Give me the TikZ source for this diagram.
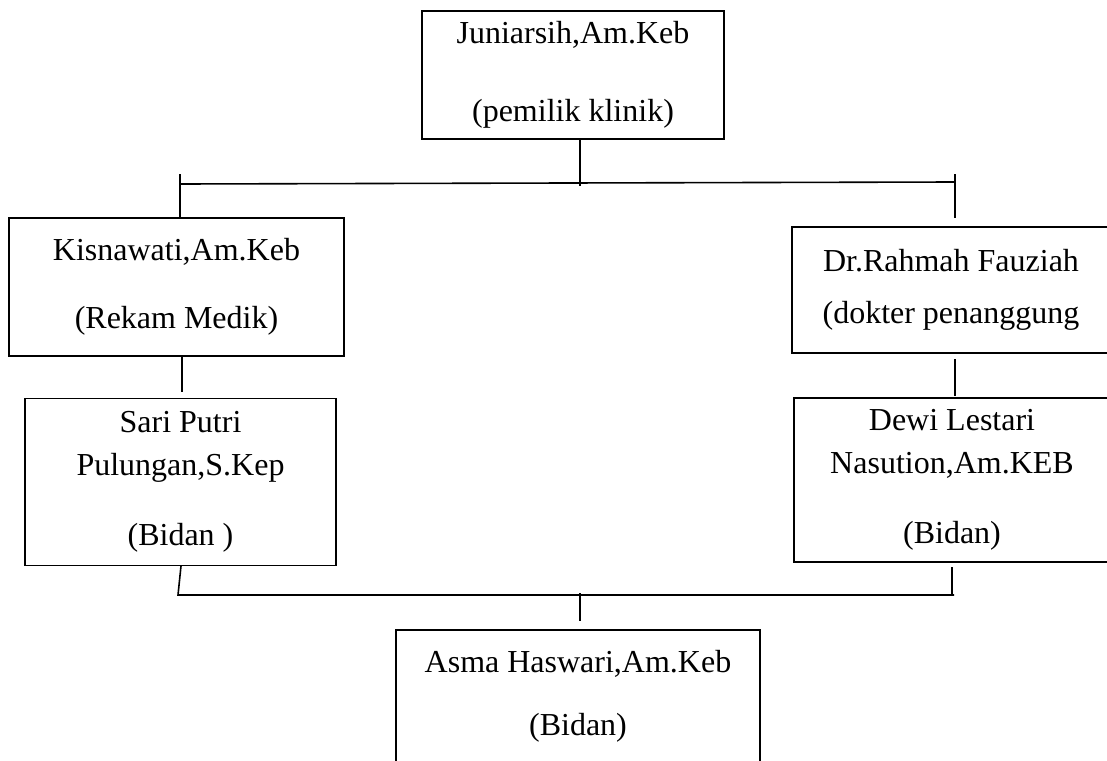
\documentclass[tikz,border=0pt]{standalone}
\usepackage{fontspec}
\setmainfont{Liberation Serif}

\begin{document}
\begin{tikzpicture}[x=0.5pt, y=-0.5pt,
  box/.style={draw, rectangle, line width=0.9pt, inner sep=0pt, align=center, font=\fontsize{16}{21.5}\selectfont},
  con/.style={line width=0.8pt}]
\useasboundingbox (0,0) rectangle (1107,760);
\clip (0,0) rectangle (1107,760);
\node[box, minimum width=151pt, minimum height=64pt](jun) at (573,75){Juniarsih,Am.Keb\\[17.5pt](pemilik klinik)};
\node[box, minimum width=167.5pt, minimum height=69pt](kis) at (176.5,287){Kisnawati,Am.Keb\\[12.5pt](Rekam Medik)};
\node[box, minimum width=159pt, minimum height=63pt](rah) at (951,290){Dr.Rahmah Fauziah\\[4.5pt](dokter penanggung};
\node[box, minimum width=155.5pt, minimum height=83.5pt](sar) at (180.5,482){Sari Putri\\Pulungan,S.Kep\\[13.5pt](Bidan )};
\node[box, minimum width=158pt, minimum height=82pt](dew) at (952,480){Dewi Lestari\\Nasution,Am.KEB\\[13.5pt](Bidan)};
\node[box, minimum width=182pt, minimum height=66pt](asm) at (578,696){Asma Haswari,Am.Keb\\[10pt](Bidan)};
\coordinate (jb) at (580,186);
\coordinate (bl) at (180,184);
\coordinate (br) at (954,182);
\coordinate (blt) at (180,174);
\coordinate (brt) at (955,174);
\coordinate (brb) at (955,218);
\coordinate (kl) at (182,392);
\coordinate (rt) at (955,359);
\coordinate (rb) at (955,396);
\coordinate (sa) at (181,566);
\coordinate (sl) at (178,595);
\coordinate (sr) at (954,595);
\coordinate (dt) at (952,567);
\coordinate (db) at (952,594);
\coordinate (bm) at (580,593);
\coordinate (am) at (580,621);
\draw[con] (jun.south -| jb) -- (jb);
\draw[con] (bl) -- (br);
\draw[con] (blt) -- (kis.north -| blt);
\draw[con] (brt) -- (brb);
\draw[con] (kis.south -| kl) -- (kl);
\draw[con] (rt) -- (rb);
\draw[con] (sa) -- (sl) -- (sr);
\draw[con] (dt) -- (db);
\draw[con] (bm) -- (am);
\end{tikzpicture}
\end{document}
